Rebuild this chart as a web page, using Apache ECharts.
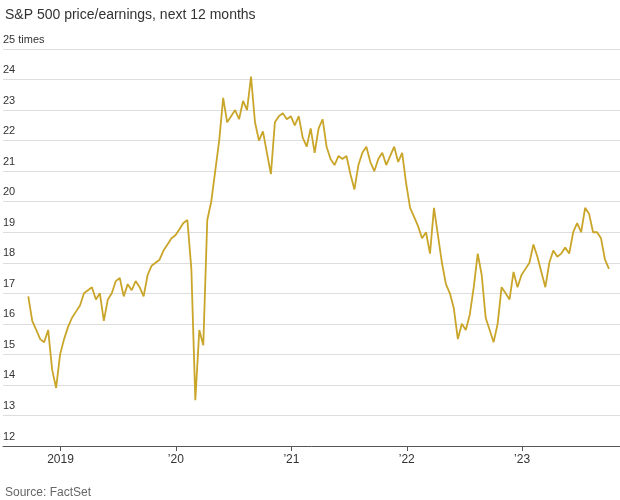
<!DOCTYPE html>
<html>
<head>
<meta charset="utf-8">
<script src="https://cdn.jsdelivr.net/npm/echarts@6/dist/echarts.min.js"></script>
<style>html,body{margin:0;padding:0;background:#fff}#main{width:620px;height:500px}</style>
</head>
<body>
<div id="main"></div>
<script>
// forward P/E, sampled roughly every 12.6 days starting late Sept 2018
var startDate = '2018-09-21';
var stepDays = 12.59;
var peValues = [16.9,16.1,15.8,15.5,15.4,15.8,14.5,13.9,15.0,15.5,15.9,16.2,16.4,16.6,17.0,17.1,17.2,16.8,17.0,16.1,
  16.8,17.0,17.4,17.5,16.9,17.3,17.1,17.4,17.2,16.9,17.6,17.9,18.0,18.1,18.4,18.6,18.8,18.9,19.1,19.3,
  19.4,17.8,13.5,15.8,15.3,19.4,20.0,21.0,22.0,23.4,22.6,22.8,23.0,22.7,23.3,23.0,24.1,22.6,22.0,22.3,
  21.6,20.9,22.6,22.8,22.9,22.7,22.8,22.5,22.8,22.1,21.8,22.4,21.6,22.4,22.7,21.8,21.4,21.2,21.5,21.4,
  21.5,20.9,20.4,21.2,21.6,21.8,21.3,21.0,21.4,21.6,21.2,21.5,21.8,21.3,21.6,20.6,19.8,19.5,19.2,18.8,
  19.0,18.3,19.8,18.9,18.0,17.3,17.0,16.5,15.5,16.0,15.8,16.3,17.2,18.3,17.6,16.2,15.8,15.4,16.0,17.2,
  17.0,16.8,17.7,17.2,17.6,17.8,18.0,18.6,18.2,17.7,17.2,18.0,18.4,18.2,18.3,18.5,18.3,19.0,19.3,19.0,
  19.8,19.6,19.0,19.0,18.8,18.1,17.8];
var yearTicks = ['2019-01-01','2020-01-01','2021-01-01','2022-01-01','2023-01-01'];
var yearLabels = ['2019','\u201920','\u201921','\u201922','\u201923'];

var DAY = 86400000;
var t0 = Date.parse(startDate);
var seriesData = peValues.map(function (v, i) { return [t0 + i * stepDays * DAY, v]; });
var tickTimes = yearTicks.map(function (d) { return Date.parse(d); });

var chart = echarts.init(document.getElementById('main'));
chart.setOption({
  animation: false,
  title: [
    {text: 'S&P 500 price/earnings, next 12 months', left: 0, top: 3,
     textStyle: {fontFamily: 'Liberation Sans', fontSize: 14, fontWeight: 'normal', color: '#333'}},
    {text: 'Source: FactSet', left: 0, top: 482,
     textStyle: {fontFamily: 'Liberation Sans', fontSize: 12, fontWeight: 'normal', color: '#666'}}
  ],
  grid: {left: 0, right: 0, top: 49, bottom: 54},
  xAxis: {
    type: 'value',
    min: Date.parse('2018-07-03'),
    max: Date.parse('2023-11-07'),
    splitLine: {show: false},
    axisLine: {show: true, lineStyle: {color: '#555'}},
    axisTick: {show: true, customValues: tickTimes, length: 5, lineStyle: {color: '#555'}},
    axisLabel: {
      customValues: tickTimes, color: '#333', fontSize: 12, fontFamily: 'Liberation Sans',
      formatter: function (v) { return yearLabels[tickTimes.indexOf(v)] || ''; }
    }
  },
  yAxis: {
    type: 'value', min: 12, max: 25, interval: 1,
    axisLine: {show: false}, axisTick: {show: false},
    splitLine: {lineStyle: {color: '#ddd'}},
    axisLabel: {
      inside: true, verticalAlign: 'bottom', margin: 0, padding: [0, 0, 4, 0],
      color: '#333', fontSize: 11, fontFamily: 'Liberation Sans',
      formatter: function (v) { return v === 25 ? '25 times' : String(v); }
    }
  },
  series: [{
    type: 'line', data: seriesData, showSymbol: false,
    lineStyle: {color: '#c9a52a', width: 1.8}
  }]
});
</script>
</body>
</html>
